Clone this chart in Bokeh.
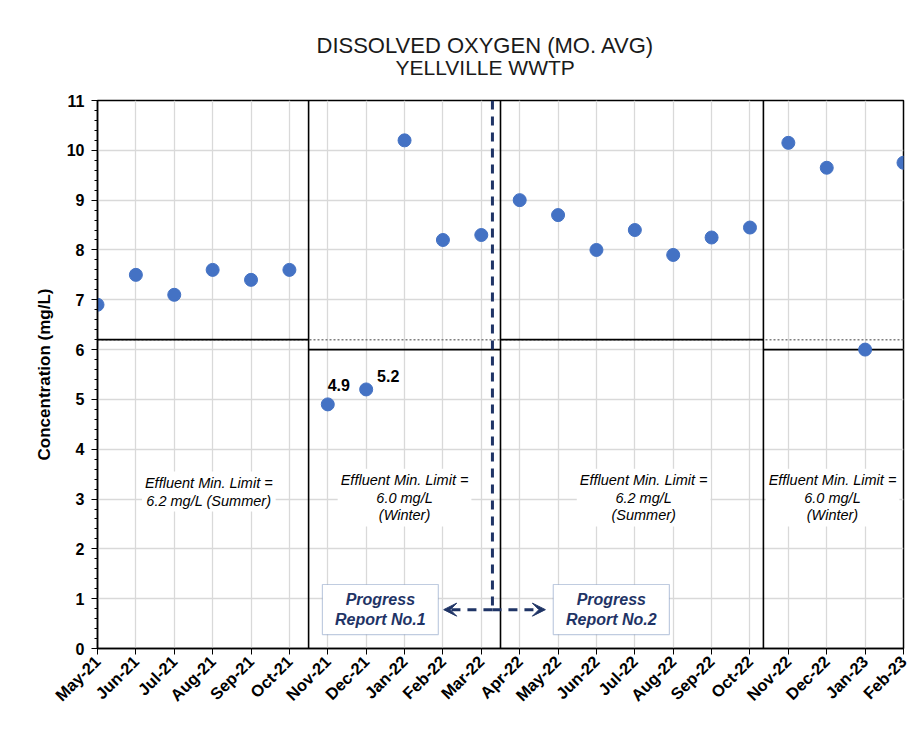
from bokeh.plotting import figure
from bokeh.models import (Range1d, FixedTicker, Label, BoxAnnotation, Arrow, VeeHead,
                          ColumnDataSource, Title)
from bokeh.embed import file_html
from bokeh.resources import INLINE

# ---------------- data ----------------
months = ["May-21", "Jun-21", "Jul-21", "Aug-21", "Sep-21", "Oct-21", "Nov-21", "Dec-21",
          "Jan-22", "Feb-22", "Mar-22", "Apr-22", "May-22", "Jun-22", "Jul-22", "Aug-22",
          "Sep-22", "Oct-22", "Nov-22", "Dec-22", "Jan-23", "Feb-23"]
do_values = [6.9, 7.5, 7.1, 7.6, 7.4, 7.6, 4.9, 5.2, 10.2, 8.2, 8.3, 9.0, 8.7, 8.0,
             8.4, 7.9, 8.25, 8.45, 10.15, 9.65, 6.0, 9.75]
labelled_idx = [6, 7]

y_ticks = list(range(0, 12))

# seasons (limit periods): start, end (month index), limit value
season_start = [0, 5.5, 10.5, 17.35]
season_end = [5.5, 10.5, 17.35, 21]
season_limit = [6.2, 6.0, 6.2, 6.0]
season_text = ["Effluent Min. Limit =\n6.2 mg/L (Summer)",
               "Effluent Min. Limit =\n6.0 mg/L\n(Winter)",
               "Effluent Min. Limit =\n6.2 mg/L\n(Summer)",
               "Effluent Min. Limit =\n6.0 mg/L\n(Winter)"]
season_text_x = [2.9, 8.0, 14.23, 19.15]
season_text_y = [3.15, 3.03, 3.03, 3.03]
summer_limit = 6.2

boundaries = [5.5, 10.5, 17.35]
progress_x = 10.29
progress_arrow_y = 0.78
progress_arrow_left = 9.02
progress_arrow_right = 11.67
report_names = ["Progress\nReport No.1", "Progress\nReport No.2"]
report_left = [5.86, 11.875]
report_right = [8.88, 14.9]
report_top = 1.285
report_bottom = 0.28

title_main = "DISSOLVED OXYGEN (MO. AVG)"
title_sub = "YELLVILLE WWTP"

NAVY = "#1f3466"
BOX_NAVY = "#2f5597"
FONT = "Liberation Sans"

x_idx = list(range(len(months)))

p = figure(width=918, height=726, output_backend="svg", toolbar_location=None,
           x_range=Range1d(0, len(months) - 1), y_range=Range1d(0, 11),
           min_border_left=97, min_border_top=100, min_border_right=15, min_border_bottom=78)
p.styles = {"outline": "1px solid #d9d9d9", "outline-offset": "-7px"}
p.background_fill_color = "white"
p.border_fill_color = "white"
p.outline_line_color = "black"
p.outline_line_width = 1.5

# axes
p.xaxis.ticker = FixedTicker(ticks=x_idx)
p.xaxis.major_label_overrides = {i: m for i, m in enumerate(months)}
p.xaxis.major_label_orientation = 0.785398
p.xaxis.major_label_text_font = FONT
p.xaxis.major_label_text_font_style = "bold"
p.xaxis.major_label_text_font_size = "16.5px"
p.xaxis.major_label_text_color = "black"
p.xaxis.major_tick_out = 6
p.xaxis.major_tick_in = 0
p.xaxis.minor_tick_out = 0
p.xaxis.axis_line_width = 1.5
p.xaxis.axis_line_color = "black"
p.xaxis.major_tick_line_color = "black"
p.xaxis.major_label_standoff = 4

p.yaxis.ticker = FixedTicker(ticks=y_ticks, minor_ticks=[i / 5 for i in range(0, 56)])
p.yaxis.major_label_text_font = FONT
p.yaxis.major_label_text_font_style = "bold"
p.yaxis.major_label_text_font_size = "16px"
p.yaxis.major_label_text_color = "black"
p.yaxis.major_tick_out = 6
p.yaxis.major_tick_in = 0
p.yaxis.minor_tick_out = 3
p.yaxis.minor_tick_in = 0
p.yaxis.axis_line_width = 1.5
p.yaxis.axis_line_color = "black"
p.yaxis.major_label_standoff = 7
p.yaxis.axis_label = "Concentration (mg/L)"
p.yaxis.axis_label_text_font = FONT
p.yaxis.axis_label_text_font_style = "bold"
p.yaxis.axis_label_text_font_size = "17px"
p.yaxis.axis_label_text_color = "black"
p.yaxis.axis_label_standoff = 10

p.xgrid.ticker = FixedTicker(ticks=x_idx)
p.xgrid.grid_line_color = "#d9d9d9"
p.xgrid.grid_line_width = 1.3
p.ygrid.grid_line_color = "#d9d9d9"
p.ygrid.grid_line_width = 1.3

# dotted summer limit across whole chart
p.line([0, len(months) - 1], [summer_limit, summer_limit], line_color="#808080",
       line_dash="2 2", line_width=1.5)
# solid season limit lines
p.segment(x0=season_start, x1=season_end, y0=season_limit, y1=season_limit,
          line_color="black", line_width=1.6)
# season boundaries
p.segment(x0=boundaries, x1=boundaries, y0=[0] * len(boundaries), y1=[11] * len(boundaries),
          line_color="black", line_width=1.6)

# progress report dashed line
p.line([progress_x, progress_x], [11, progress_arrow_y], line_color=NAVY, line_width=3,
       line_dash="9 7")

for xe in [progress_arrow_left, progress_arrow_right]:
    p.add_layout(Arrow(x_start=progress_x, y_start=progress_arrow_y, x_end=xe,
                       y_end=progress_arrow_y, line_color=NAVY, line_width=3,
                       line_dash="9 7",
                       end=VeeHead(size=13, fill_color=NAVY, line_color=NAVY, line_width=1)))

# data points
src = ColumnDataSource(dict(x=x_idx, y=do_values))
p.scatter("x", "y", source=src, size=13, color="#4472c4")

for i in labelled_idx:
    p.add_layout(Label(x=x_idx[i], y=do_values[i], text=f"{do_values[i]:.1f}",
                       x_offset=11 if i == labelled_idx[0] else 22,
                       y_offset=19 if i == labelled_idx[0] else 13,
                       text_align="center", text_baseline="middle",
                       text_font=FONT, text_font_style="bold", text_font_size="16px",
                       text_color="black"))

# season text boxes
for tx, ty, t in zip(season_text_x, season_text_y, season_text):
    p.add_layout(Label(x=tx, y=ty, text=t, text_align="center", text_baseline="middle",
                       text_font=FONT, text_font_style="italic", text_font_size="14.5px",
                       text_color="black", text_line_height=1.12,
                       background_fill_color="white", padding=3))

# progress report boxes
for l, r, name in zip(report_left, report_right, report_names):
    p.add_layout(BoxAnnotation(left=l, right=r, top=report_top, bottom=report_bottom,
                               fill_color="white", fill_alpha=1.0,
                               line_color=BOX_NAVY, line_width=1.2))
    p.add_layout(Label(x=(l + r) / 2, y=(report_top + report_bottom) / 2, text=name,
                       text_align="center", text_baseline="middle",
                       text_font=FONT, text_font_style="bold italic",
                       text_font_size="16px", text_color=NAVY, text_line_height=1.2))

# titles (first added is nearest to the frame)
p.add_layout(Title(text=title_sub, align="left", offset=298,
                   text_font=FONT, text_font_size="21px", text_font_style="normal",
                   text_color="#1a1a1a", standoff=43), "above")
p.add_layout(Title(text=title_main, align="left", offset=219,
                   text_font=FONT, text_font_size="22px", text_font_style="normal",
                   text_color="#1a1a1a", standoff=-50), "above")

open("out.html", "w").write(file_html(p, INLINE))
